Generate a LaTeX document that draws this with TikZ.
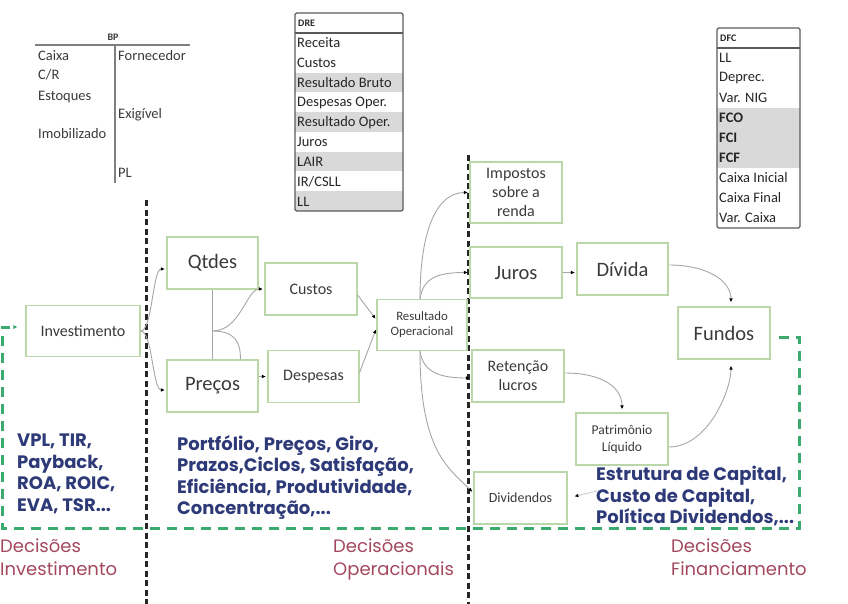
\documentclass[tikz,border=0pt]{standalone}
\usepackage{fontspec}
\setmainfont{Carlito}
\newfontfamily\gfont{Poppins}
\usetikzlibrary{arrows.meta}
\definecolor{boxg}{HTML}{BBD6A8}
\definecolor{connc}{HTML}{A6A6A6}
\definecolor{navy}{HTML}{2E3A78}
\definecolor{maroonc}{HTML}{A3475F}
\definecolor{gdash}{HTML}{3BAA6E}
\definecolor{txt}{HTML}{3A3A3A}
\definecolor{rowg}{HTML}{D9D9D9}
\definecolor{tabb}{HTML}{5A5A5A}
\newcommand\myfs[2]{\fontsize{#1}{#2}\selectfont}
\begin{document}
\begin{tikzpicture}[x=1pt,y=-1pt,
  fbox/.style={draw=boxg,line width=1.1pt,align=center,text=txt,inner sep=1pt},
  cline/.style={draw=connc,line width=0.9pt},
  conn/.style={draw=connc,line width=0.9pt,-{Latex[length=4pt,width=3.6pt,color=black]},shorten >=1.5pt},
  blk/.style={draw=black!85,line width=3pt,dash pattern=on 6pt off 3.5pt},
  grn/.style={draw=gdash,line width=3pt,dash pattern=on 10pt off 7pt},
  ttxt/.style={anchor=west,inner sep=0pt,text=black!85,font=\myfs{14.5}{16}},
  bptxt/.style={anchor=west,inner sep=0pt,text=txt,font=\myfs{14.5}{16}},
  bluet/.style={anchor=north west,inner sep=0pt,align=left,text=navy,font=\gfont\bfseries\myfs{18}{21.4}},
  redt/.style={anchor=north west,inner sep=0pt,align=left,text=maroonc,font=\gfont\myfs{18}{23}}
]
\useasboundingbox (0,0) rectangle (848,604);

% ---------- BP ----------
\node[inner sep=0pt,text=txt,font=\bfseries\myfs{10}{12}] (bp) at (113,37) {BP};
\coordinate (bpl) at (35,45); \coordinate (bpr) at (190,45);
\coordinate (bpt) at (115,45); \coordinate (bpb) at (115,183);
\draw[draw=black!50,line width=1.4pt] (bpl) -- (bpr);
\draw[draw=black!50,line width=1.4pt] (bpt) -- (bpb);
\node[bptxt] (bp1) at (38,56) {Caixa};
\node[bptxt] (bp2) at (38,75) {C/R};
\node[bptxt] (bp3) at (38,97) {Estoques};
\node[bptxt] (bp4) at (38,134) {Imobilizado};
\node[bptxt] (bp5) at (118,56) {Fornecedor};
\node[bptxt] (bp6) at (118,115) {Exigível};
\node[bptxt] (bp7) at (118,173) {PL};

% ---------- DRE ----------
\fill[rowg] (295,72.56) rectangle (403,92.33);
\fill[rowg] (295,112.11) rectangle (403,131.89);
\fill[rowg] (295,151.67) rectangle (403,171.44);
\fill[rowg] (295,191.22) rectangle (403,211);
\draw[draw=tabb,line width=1.2pt,rounded corners=1.5pt] (295,13) rectangle (403,211);
\draw[draw=tabb,line width=1.6pt] (295,33) -- (403,33);
\node[ttxt,font=\bfseries\myfs{10}{12}] (dre0) at (298,23) {DRE};
\node[ttxt] (dre1) at (297,43) {Receita};
\node[ttxt] (dre2) at (297,63) {Custos};
\node[ttxt] (dre3) at (297,83) {Resultado Bruto};
\node[ttxt] (dre4) at (297,102.5) {Despesas Oper.};
\node[ttxt] (dre5) at (297,122.5) {Resultado Oper.};
\node[ttxt] (dre6) at (297,142) {Juros};
\node[ttxt] (dre7) at (297,162) {LAIR};
\node[ttxt] (dre8) at (297,181.5) {IR/CSLL};
\node[ttxt] (dre9) at (297,201.5) {LL};

% ---------- DFC ----------
\fill[rowg] (717,108) rectangle (800,168);
\draw[draw=tabb,line width=1.2pt,rounded corners=1.5pt] (717,28) rectangle (800,228);
\draw[draw=tabb,line width=1.6pt] (717,48) -- (800,48);
\node[ttxt,font=\bfseries\myfs{10}{12}] (dfc0) at (720,38) {DFC};
\node[ttxt] (dfc1) at (719,58) {LL};
\node[ttxt] (dfc2) at (719,78) {Deprec.};
\node[ttxt] (dfc3) at (719,98) {Var. NIG};
\node[ttxt,font=\bfseries\myfs{14.5}{16}] (dfc4) at (719,118) {FCO};
\node[ttxt,font=\bfseries\myfs{14.5}{16}] (dfc5) at (719,138) {FCI};
\node[ttxt,font=\bfseries\myfs{14.5}{16}] (dfc6) at (719,158) {FCF};
\node[ttxt] (dfc7) at (719,178) {Caixa Inicial};
\node[ttxt] (dfc8) at (719,198) {Caixa Final};
\node[ttxt] (dfc9) at (719,218) {Var. Caixa};

% ---------- dashed separators ----------
\coordinate (s1t) at (146,200); \coordinate (s1b) at (146,604);
\coordinate (s2t) at (468,155); \coordinate (s2b) at (468,604);
\draw[blk] (s1t) -- (s1b);
\draw[blk] (s2t) -- (s2b);

% ---------- flow boxes ----------
\node[fbox,minimum width=114pt,minimum height=51pt,font=\myfs{16}{19}] (inv) at (83,331) {Investimento};
\node[fbox,minimum width=91pt,minimum height=52pt,font=\myfs{20.5}{24}] (qtd) at (212.5,263) {Qtdes};
\node[fbox,minimum width=91pt,minimum height=52pt,font=\myfs{20.5}{24}] (pre) at (212.5,386) {Preços};
\node[fbox,minimum width=92pt,minimum height=52pt,font=\myfs{16}{19}] (cus) at (311,289) {Custos};
\node[fbox,minimum width=91pt,minimum height=52pt,font=\myfs{16}{19}] (des) at (313.5,376.5) {Despesas};
\node[fbox,minimum width=90pt,minimum height=51pt,font=\myfs{12.8}{15}] (res) at (422,325) {Resultado\\Operacional};
\node[fbox,minimum width=92pt,minimum height=61pt,font=\myfs{16}{19}] (imp) at (516,192.5) {Impostos\\sobre a\\renda};
\node[fbox,minimum width=92pt,minimum height=51pt,font=\myfs{20.5}{24}] (jur) at (516,272.5) {Juros};
\node[fbox,minimum width=91pt,minimum height=52pt,font=\myfs{20.5}{24}] (div) at (622.5,269) {Dívida};
\node[fbox,minimum width=92pt,minimum height=52pt,font=\myfs{20.5}{24}] (fun) at (724,333) {Fundos};
\node[fbox,minimum width=92pt,minimum height=52pt,font=\myfs{16}{19}] (ret) at (518,376) {Retenção\\lucros};
\node[fbox,minimum width=92pt,minimum height=52pt,font=\myfs{13.5}{17}] (pat) at (622,439) {Patrimônio\\Líquido};
\node[fbox,minimum width=93pt,minimum height=52pt,font=\myfs{14}{17}] (dvd) at (520.5,498) {Dividendos};

% ---------- connectors ----------
\draw[conn] (inv.east) .. controls +(12,0) and +(-14,0) .. ([yshift=-6pt]qtd.west);
\draw[conn] (inv.east) .. controls +(12,0) and +(-14,0) .. ([yshift=-4pt]pre.west);
\draw[cline] (qtd.south) -- (pre.north);
\coordinate (m) at (qtd.south |- inv.east);
\draw[conn] (m) .. controls +(28,0) and +(-18,0) .. (cus.west);
\draw[cline] (m) .. controls +(22,0) and +(0,-18) .. ([xshift=28pt]pre.north);
\draw[conn] (pre.east |- des.west) -- (des.west);
\draw[conn] ([yshift=-6pt]cus.east) -- ([yshift=5pt]res.west);
\draw[conn] ([yshift=4pt]des.east) -- ([yshift=-3pt]res.west);
\draw[conn] ([xshift=-2pt]res.north) .. controls +(0,-75) and +(-30,0) .. (imp.west);
\draw[conn] ([xshift=-2pt]res.north) .. controls +(3,-22) and +(-30,0) .. (jur.west);
\draw[conn] ([xshift=-2pt]res.south) .. controls +(3,22) and +(-30,0) .. ([yshift=-2pt]ret.west);
\draw[conn] ([xshift=-2pt]res.south) .. controls +(0,100) and +(-25,-25) .. ([yshift=5pt]dvd.west);
\draw[conn] (jur.east) -- (div.west |- jur.east);
\draw[conn,shorten >=4pt] ([yshift=4pt]div.east) .. controls +(40,0) and +(0,-25) .. ([xshift=7pt]fun.north);
\draw[conn,shorten >=3pt] ([yshift=3pt]ret.east) .. controls +(38,0) and +(0,-25) .. (pat.north);
\draw[conn,shorten >=6pt] ([yshift=-8pt]pat.east) .. controls +(40,0) and +(0,30) .. ([xshift=7pt]fun.south);
\coordinate (t1) at (597,491);
\draw[conn,draw=connc!60,shorten >=7pt] (t1) -- (dvd.east);

% ---------- green dashed loop ----------
\coordinate (g0) at (799,337);
\coordinate (g1) at (799,528);
\coordinate (g2) at (2,528);
\coordinate (g3) at (2,327);
\coordinate (g4) at (16,327);
\draw[grn] ([xshift=8pt,yshift=-4pt]fun.east) -- (g0) -- (g1) -- (g2) -- (g3) -- (g4);
\draw[draw=gdash,line width=2.4pt,-{Latex[length=4pt,width=4.5pt]}] (g4) -- ([xshift=-8pt,yshift=4pt]inv.west);

% ---------- texts ----------
\node[bluet] (b1) at (17,434) {VPL, TIR,\\Payback,\\ROA, ROIC,\\EVA, TSR...};
\node[bluet] (b2) at (177,435) {Portfólio, Preços, Giro,\\Prazos,Ciclos, Satisfação,\\Eficiência, Produtividade,\\Concentração,...};
\node[bluet] (b3) at (596,466) {Estrutura de Capital,\\Custo de Capital,\\Política Dividendos,...};
\node[redt] (r1) at (0,539) {Decisões\\Investimento};
\node[redt] (r2) at (333,539) {Decisões\\Operacionais};
\node[redt] (r3) at (671,539) {Decisões\\Financiamento};
\end{tikzpicture}
\end{document}
